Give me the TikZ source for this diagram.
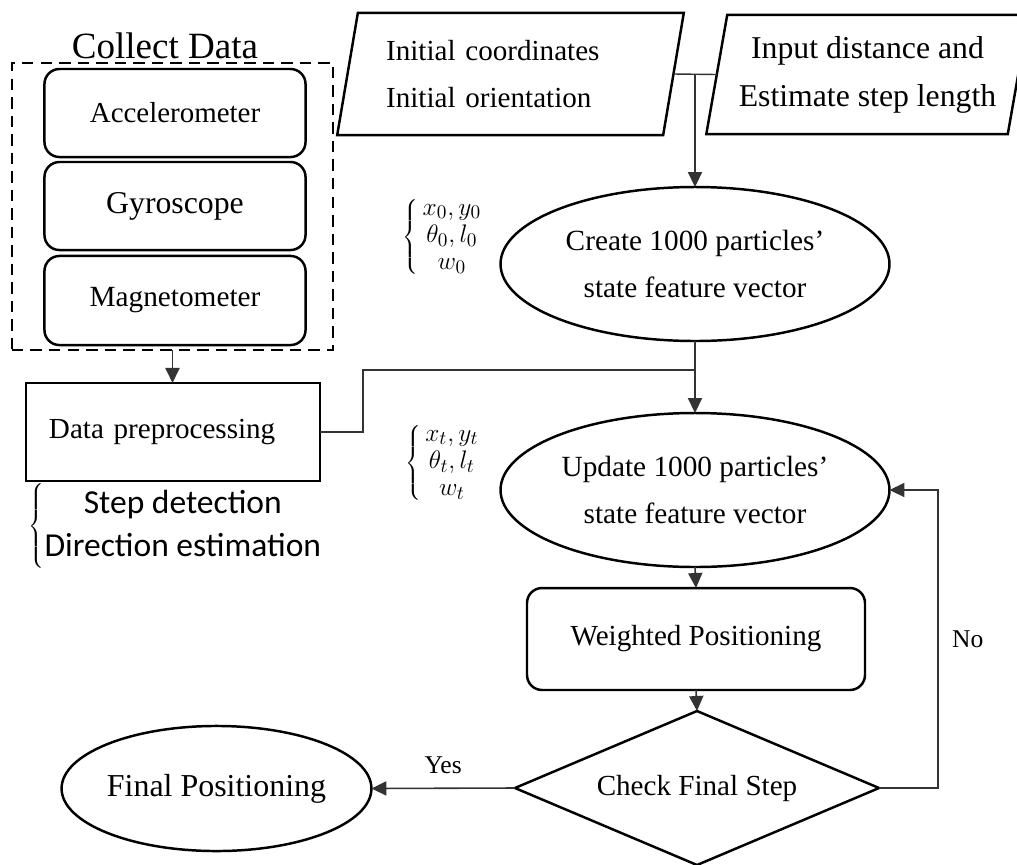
\documentclass[tikz,border=0pt]{standalone}
\usepackage{fontspec}
\setmainfont{Liberation Serif}
\newfontfamily\calibri{Carlito}
\usepackage{tikz}
\usetikzlibrary{
  shapes.geometric,
  arrows.meta,
  calc
}
\colorlet{outline}{black}
\colorlet{connector}{black!80}
\newcommand\fsize[2]{\fontsize{#1}{#2}\selectfont}

\begin{document}
\begin{tikzpicture}[
  x=0.5669pt, y=-0.5669pt,
  every node/.style={inner sep=0pt, outer sep=0pt},
  box/.style={draw=outline, line width=1.4pt},
  sensor/.style={box, rounded corners=8.5pt, minimum width=148pt},
  io/.style={box, trapezium, trapezium left angle=76, trapezium right angle=104, trapezium stretches=true},
  particles/.style={box, ellipse, minimum width=220.5pt, minimum height=87.3pt, align=center, font=\fsize{16.6}{26.6}},
  vector/.style={font=\fsize{15}{15.5}},
  flow/.style={draw=connector, line width=0.9pt, -{Triangle[length=8.5pt,width=8pt]}},
  link/.style={draw=connector, line width=0.8pt},
  answer/.style={font=\fsize{14.5}{17}}
]
\useasboundingbox (0,0) rectangle (1017,864);

% sensor stack
\node[draw=outline, line width=1.3pt, dash pattern=on 6.5pt off 4pt, minimum width=182pt, minimum height=162.7pt] (collect) at (172.5,206.5) {};
\node[anchor=base, font=\fsize{21}{25}] (title) at (165,58) {Collect Data};
\foreach \name/\txt/\yc/\hgt/\fs in {acc/Accelerometer/113/49.9/16.4, gyro/Gyroscope/206/49.9/18, mag/Magnetometer/300.5/50.5/16.6}
  \node[sensor, minimum height=\hgt pt, font=\fsize{\fs}{\fs}] (\name) at (175,\yc) {\txt};

\node[box, minimum width=166.7pt, minimum height=55.6pt, text width=140.6pt, align=left, font=\fsize{16.5}{20}] (prep) at (173,432) {Data preprocessing};
\node[font=\calibri\fsize{19}{24.4}] (steps) at (176,526) {$\left\{\begin{tabular}{@{}c@{}}Step detection\\Direction estimation\end{tabular}\right.$};

% inputs
\node[io, minimum width=196.7pt, minimum height=69.2pt, text width=141pt, align=left, font=\fsize{16.5}{26.6}] (init) at (510.5,74) {Initial coordinates\\Initial orientation};
\node[io, minimum width=183.1pt, minimum height=67.5pt, align=center, font=\fsize{18}{27.2}] (input) at (867.5,74.5) {Input distance and\\Estimate step length};

% particle filter
\node[particles] (create) at (695,264) {Create 1000 particles'\\state feature vector};
\node[particles] (update) at (695,490) {Update 1000 particles'\\state feature vector};
\node[box, rounded corners=8.5pt, minimum width=191.6pt, minimum height=57.8pt, font=\fsize{16.5}{20}] (weighted) at (696,639) {Weighted Positioning};
\node[box, diamond, aspect=2.36, minimum width=206.4pt, minimum height=87.3pt, font=\fsize{16.5}{20}] (check) at (697,788) {Check Final Step};
\node[box, ellipse, minimum width=171.8pt, minimum height=70.9pt, font=\fsize{18.1}{22}] (final) at (216.5,788.5) {Final Positioning};

% state vectors
\node[vector] (initstate) at (443,237) {$\left\{\,\begin{array}{@{}c@{}} x_0, y_0\\ \theta_0, l_0\\ w_0\end{array}\right.$};
\node[vector] (stepstate) at (443,463) {$\left\{\,\begin{array}{@{}c@{}} x_t, y_t\\ \theta_t, l_t\\ w_t\end{array}\right.$};

% connectors
\draw[flow] (collect.south) -- (collect.south |- prep.north);
\draw[link] (init.east) -- (input.west);
\coordinate (split) at (init.east -| create.north);
\draw[flow] (split) -- (create.north);
\coordinate (merge) at ($(create.south)!0.4!(update.north)$);
\draw[link] (prep.east) -- ++(43,0) |- (merge);
\draw[flow] (create.south) -- (update.north);
\draw[flow] (update.south) -- (weighted.north);
\draw[flow] (weighted.south) -- (check.north);
\draw[flow] (check.west) -- (final.east) node[answer, midway, above=8.5pt] {Yes};
\draw[flow] (check.east) -- ++(59,0) |- (update.east) node[answer, pos=0.25, right=8pt] {No};
\end{tikzpicture}
\end{document}
